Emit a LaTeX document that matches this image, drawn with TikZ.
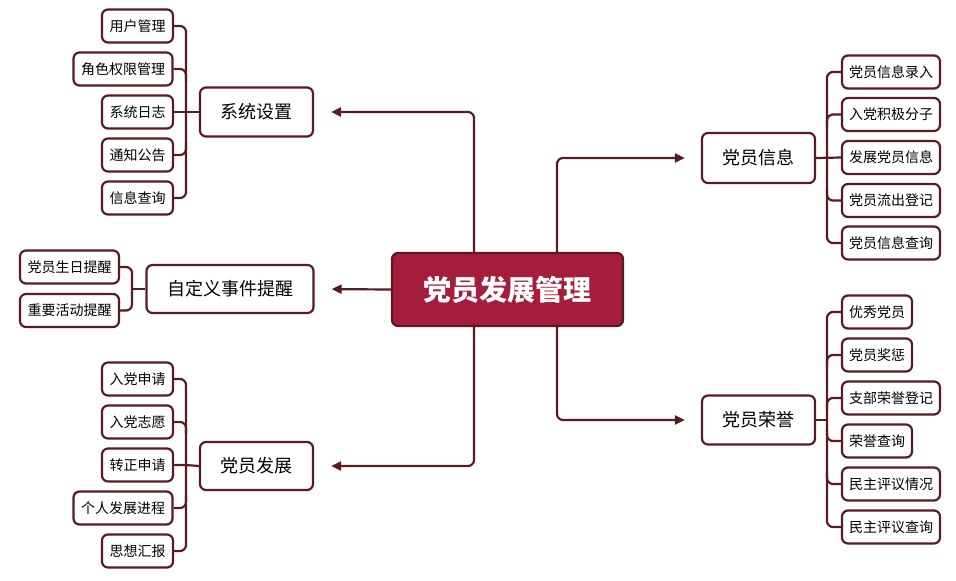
\documentclass[tikz,border=0pt]{standalone}
\usepackage{fontspec}
\setmainfont{Noto Sans CJK SC}
\usetikzlibrary{arrows.meta,calc}
\definecolor{lineC}{HTML}{5A1A22}
\definecolor{mainC}{HTML}{A51D3B}
\begin{document}
\begin{tikzpicture}[x=1pt,y=-1pt,
  box/.style={draw=lineC,line width=2.2pt,rounded corners=6pt,fill=white,inner sep=0pt,align=center},
  leaf/.style={box,minimum height=33pt,font=\fontsize{14}{16}\selectfont},
  leafa/.style={leaf,minimum width=71pt},
  leafb/.style={leaf,minimum width=99pt},
  topic/.style={box,minimum width=113pt,minimum height=49pt,font=\fontsize{18}{20}\selectfont},
  root/.style={box,fill=mainC,text=white,minimum width=231pt,minimum height=73pt,font=\fontsize{28}{30}\selectfont\bfseries},
  conn/.style={draw=lineC,line width=2.2pt,rounded corners=6pt},
  arr/.style={conn,-{Triangle[length=10pt,width=9pt]}}
]
\useasboundingbox (0,0) rectangle (956,581);

% root
\node[root] (c) at (507.5,289.5) {党员发展管理};
\coordinate (lx) at (474,0);
\coordinate (rx) at (557,0);

% topics
\node[topic] (sys) at (256.5,112) {系统设置};
\node[topic,minimum width=167pt,minimum height=48pt] (evt) at (230,289) {自定义事件提醒};
\node[topic,minimum height=48pt] (dev) at (256.5,466) {党员发展};
\node[topic,minimum height=50pt] (info) at (758.5,158) {党员信息};
\node[topic] (hon) at (758.5,420) {党员荣誉};

% main connectors
\draw[arr,shorten >=17pt] (c.north -| lx) |- (sys.east);
\draw[arr,shorten >=17pt] (c.west) -- (evt.east);
\draw[arr,shorten >=17pt] (c.south -| lx) |- (dev.east);
\draw[arr,shorten >=16pt] (c.north -| rx) |- (info.west);
\draw[arr,shorten >=16pt] (c.south -| rx) |- (hon.west);

% system settings leaves
\node[leafa] (s1) at (137.5,26) {用户管理};
\node[leafb] (s2) at (123,69) {角色权限管理};
\node[leafa] (s3) at (137.5,112) {系统日志};
\node[leafa] (s4) at (137.5,155) {通知公告};
\node[leafa] (s5) at (137.5,198) {信息查询};
\coordinate (sb) at (186,0);
\draw[conn] (s1.east) -- (s1.east -| sb) -- (s5.east -| sb) -- (s5.east);
\draw[conn] (s2.east) -- (s2.east -| sb) -- ($(s2.east -| sb)+(0,12)$);
\draw[conn] (s4.east) -- (s4.east -| sb) -- ($(s4.east -| sb)+(0,-12)$);
\draw[conn] (s3.east) -- (sys.west);

% event leaves
\node[leafb] (e1) at (69.5,267) {党员生日提醒};
\node[leafb] (e2) at (69.5,310.5) {重要活动提醒};
\coordinate (eb) at (132,0);
\draw[conn] (e1.east) -- (e1.east -| eb) -- (e2.east -| eb) -- (e2.east);
\draw[conn] (evt.west) -- (evt.west -| eb);

% development leaves
\node[leafa] (d1) at (137.5,379) {入党申请};
\node[leafa] (d2) at (137.5,422) {入党志愿};
\node[leafa] (d3) at (137.5,465) {转正申请};
\node[leafb] (d4) at (123,508) {个人发展进程};
\node[leafa] (d5) at (137.5,551) {思想汇报};
\draw[conn] (d1.east) -- (d1.east -| sb) -- (d5.east -| sb) -- (d5.east);
\draw[conn] (d2.east) -- (d2.east -| sb) -- ($(d2.east -| sb)+(0,12)$);
\draw[conn] (d4.east) -- (d4.east -| sb) -- ($(d4.east -| sb)+(0,-12)$);
\draw[conn] (d3.east) -- (d3.east -| sb) -- (dev.west);

% info leaves
\node[leafb,minimum width=98pt] (i1) at (891,72) {党员信息录入};
\node[leafb,minimum width=98pt] (i2) at (891,114.5) {入党积极分子};
\node[leafb,minimum width=98pt] (i3) at (891,157.5) {发展党员信息};
\node[leafb,minimum width=98pt] (i4) at (891,200.5) {党员流出登记};
\node[leafb,minimum width=98pt] (i5) at (891,243) {党员信息查询};
\coordinate (ib) at (827,0);
\draw[conn] (i1.west) -- (i1.west -| ib) -- (i5.west -| ib) -- (i5.west);
\draw[conn] (i2.west) -- (i2.west -| ib) -- ($(i2.west -| ib)+(0,12)$);
\draw[conn] (i4.west) -- (i4.west -| ib) -- ($(i4.west -| ib)+(0,-12)$);
\draw[conn] (info.east) -- (i3.west);

% honour leaves
\node[leafa,minimum width=70pt] (h1) at (877,312) {优秀党员};
\node[leafa,minimum width=70pt] (h2) at (877,355) {党员奖惩};
\node[leafb,minimum width=98pt] (h3) at (891,398) {支部荣誉登记};
\node[leafa,minimum width=70pt] (h4) at (877,441) {荣誉查询};
\node[leafb,minimum width=98pt] (h5) at (891,484) {民主评议情况};
\node[leafb,minimum width=98pt] (h6) at (891,527) {民主评议查询};
\draw[conn] (h1.west) -- (h1.west -| ib) -- (h6.west -| ib) -- (h6.west);
\draw[conn] (h2.west) -- (h2.west -| ib) -- ($(h2.west -| ib)+(0,12)$);
\draw[conn] (h3.west) -- (h3.west -| ib) -- ($(h3.west -| ib)+(0,12)$);
\draw[conn] (h4.west) -- (h4.west -| ib) -- ($(h4.west -| ib)+(0,-12)$);
\draw[conn] (h5.west) -- (h5.west -| ib) -- ($(h5.west -| ib)+(0,-12)$);
\draw[conn] (hon.east) -- (hon.east -| ib);
\end{tikzpicture}
\end{document}
